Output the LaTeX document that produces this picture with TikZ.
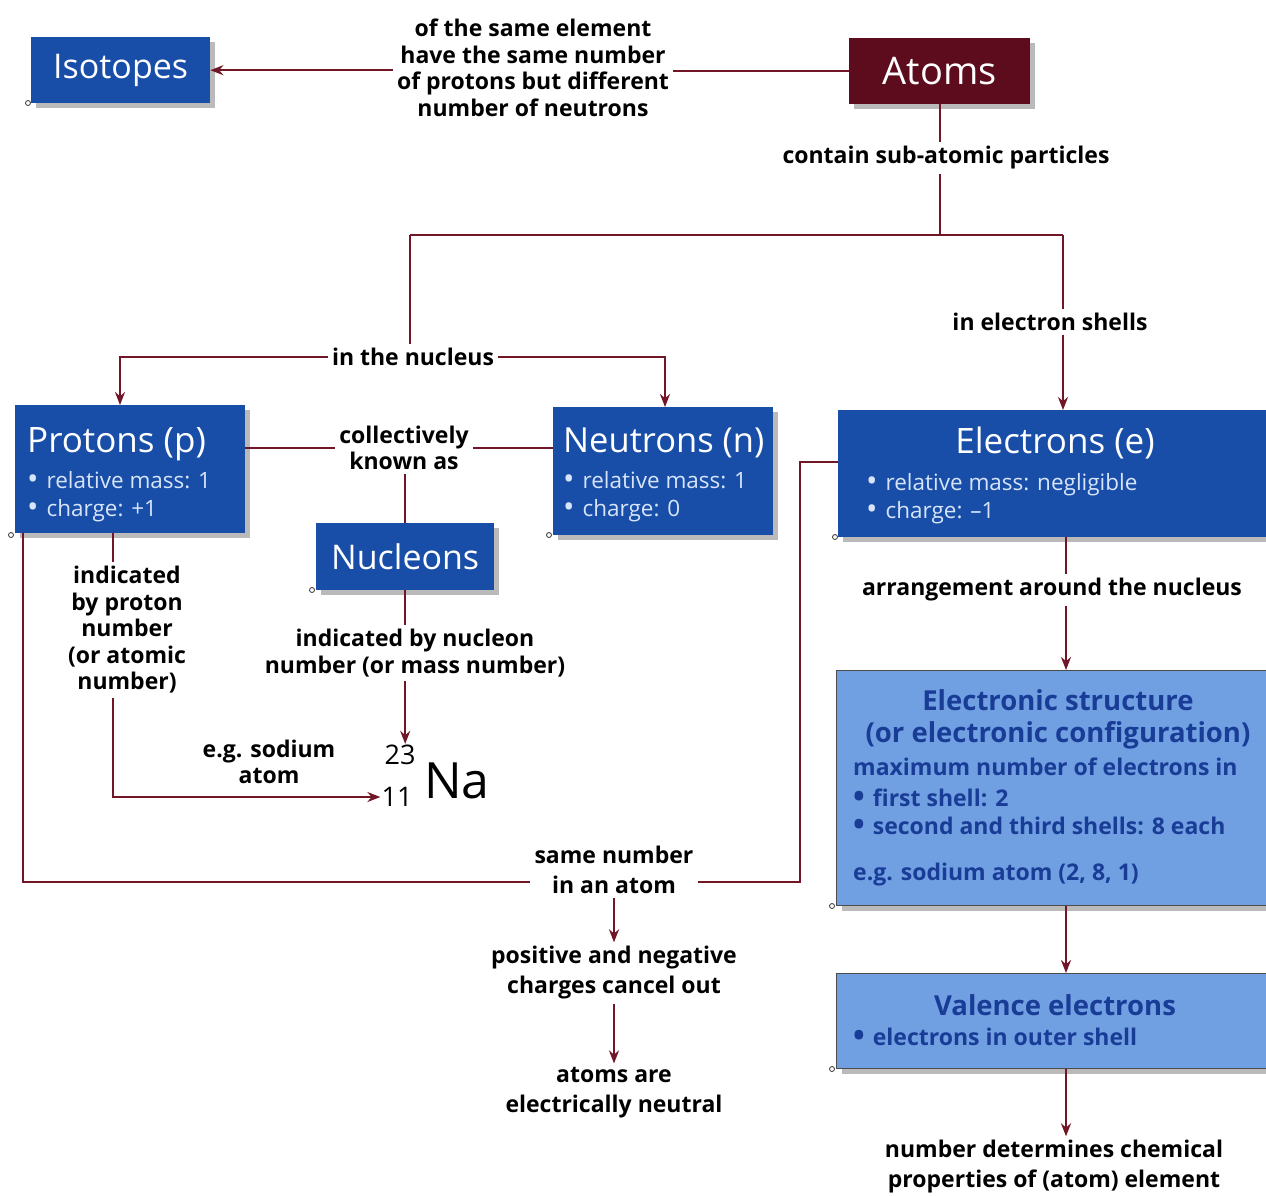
\documentclass[tikz,border=0pt]{standalone}
\usepackage{fontspec}
\setmainfont{Open Sans}
\usetikzlibrary{arrows.meta,shadows}
\definecolor{boxblue}{RGB}{24,78,168}
\definecolor{atomred}{RGB}{92,12,28}
\definecolor{linered}{RGB}{112,22,38}
\definecolor{lightbox}{RGB}{112,160,226}
\definecolor{darktext}{RGB}{25,60,150}
\definecolor{bullettext}{RGB}{215,228,250}
\newcommand{\bu}{\raisebox{-1pt}{\scalebox{1.35}{\textbullet}}\hspace{8pt}}
\tikzset{
  box/.style={fill=boxblue, inner sep=0pt, anchor=north west,
    drop shadow={shadow xshift=5pt, shadow yshift=-5pt, fill=black!45, opacity=0.6}},
  redbox/.style={box, fill=atomred},
  litebox/.style={box, fill=lightbox, draw=black!70, line width=1pt},
  ttl/.style={text=white, inner sep=0pt, font=\fontsize{35}{38}\selectfont},
  bul/.style={text=bullettext, inner sep=0pt, anchor=base west, align=left, font=\fontsize{22.5}{27.2}\selectfont},
  dttl/.style={text=darktext, inner sep=0pt, anchor=base, font=\bfseries\fontsize{27.5}{32}\selectfont},
  dbul/.style={text=darktext, inner sep=0pt, anchor=base west, font=\bfseries\fontsize{23}{26}\selectfont},
  lbl/.style={text=black, inner sep=4pt, align=center, font=\bfseries\fontsize{23}{26.5}\selectfont},
  lblw/.style={lbl, font=\bfseries\fontsize{23}{30}\selectfont},
  conn/.style={draw=linered, line width=2pt},
  arr/.style={conn, -{Stealth[length=13pt,width=10pt]}},
  ghost/.style={draw=black!80, fill=white, line width=0.8pt}
}
\begin{document}
\begin{tikzpicture}[x=1pt,y=-1pt]
\useasboundingbox (0,0) rectangle (1266,1195);
\fill[white] (0,0) rectangle (1266,1195);

% boxes
\node[box, minimum width=179pt, minimum height=66pt] (iso) at (31,37) {};
\node[redbox, minimum width=181pt, minimum height=66pt] (atoms) at (849,38) {};
\node[box, minimum width=230pt, minimum height=128pt] (protons) at (15,405) {};
\node[box, minimum width=220pt, minimum height=128pt] (neutrons) at (553,407) {};
\node[box, minimum width=428pt, minimum height=127pt] (electrons) at (838,410) {};
\node[box, minimum width=178pt, minimum height=67pt] (nucleons) at (316,523) {};
\node[litebox, minimum width=430pt, minimum height=235pt] (es) at (836,670) {};
\node[litebox, minimum width=430pt, minimum height=95pt] (val) at (836,973) {};

% ghost corner marks
\draw[ghost] (28,103) circle (2.5);
\draw[ghost] (11,535) circle (2.5);
\draw[ghost] (549,535) circle (2.5);
\draw[ghost] (835,537) circle (2.5);
\draw[ghost] (312,590) circle (2.5);
\draw[ghost] (832,906) circle (2.5);
\draw[ghost] (832,1069) circle (2.5);

% box texts
\node[ttl, font=\fontsize{34}{38}\selectfont] (tiso) at (iso.center) {Isotopes};
\node[ttl, font=\fontsize{38}{40}\selectfont] (tatoms) at (atoms.center) {Atoms};
\node[ttl, anchor=base west] (tprot) at (27,452) {Protons (p)};
\node[bul] (bp) at (27,516) {\bu relative mass: 1\\\bu charge: +1};
\node[ttl, anchor=base west, font=\fontsize{34.5}{38}\selectfont] (tneut) at (563,452) {Neutrons (n)};
\node[bul] (bn) at (563,516) {\bu relative mass: 1\\\bu charge: 0};
\node[ttl, anchor=base] (telec) at (1055,453) {Electrons (e)};
\node[bul] (be) at (866,518) {\bu relative mass: negligible\\\bu charge: –1};
\node[ttl, font=\fontsize{34}{38}\selectfont] (tnucl) at (nucleons.center) {Nucleons};
\node[dttl] (tes1) at (1058,710) {Electronic structure};
\node[dttl] (tes2) at (1058,742) {(or electronic configuration)};
\node[dbul] (des1) at (853,775) {maximum number of electrons in};
\node[dbul] (des2) at (853,806) {\bu first shell: 2};
\node[dbul] (des3) at (853,834) {\bu second and third shells: 8 each};
\node[dbul] (des4) at (853,880) {e.g. sodium atom (2, 8, 1)};
\node[dttl] (tval) at (1055,1015) {Valence electrons};
\node[dbul] (dval) at (853,1045) {\bu electrons in outer shell};

% labels
\node[lbl] (lbliso) at (533,68) {of the same element\\have the same number\\of protons but different\\number of neutrons};
\node[lbl] (lblcontain) at (946,158) {contain sub-atomic particles};
\node[lbl] (lblshells) at (1050,322) {in electron shells};
\node[lbl] (lblnucleus) at (413,357) {in the nucleus};
\node[lbl] (lblcoll) at (404,448) {collectively\\known as};
\node[lbl] (lblpnum) at (127,630) {indicated\\by proton\\number\\(or atomic\\number)};
\node[lbl] (lblnnum) at (415,653) {indicated by nucleon\\number (or mass number)};
\node[lbl] (lbleg) at (269,762) {e.g. sodium\\atom};
\node[lblw] (lblsame) at (614,870) {same number\\in an atom};
\node[lblw] (lblpos) at (614,973) {positive and negative\\charges cancel out};
\node[lblw] (lblneut) at (614,1093) {atoms are\\electrically neutral};
\node[lbl] (lblarr) at (1052,590) {arrangement around the nucleus};
\node[lblw] (lblprop) at (1054,1167) {number determines chemical\\properties of (atom) element};

% sodium notation
\node[inner sep=1pt, font=\fontsize{27}{27}\selectfont] (na23) at (400,755) {23};
\node[inner sep=1pt, font=\fontsize{27}{27}\selectfont] (na11) at (397,797) {11};
\node[inner sep=0pt, font=\fontsize{50}{50}\selectfont] (na) at (457,781) {Na};

% junction coordinates
\coordinate (jL) at (410,235);
\coordinate (jR) at (1063,235);
\coordinate (nL) at (120,357);
\coordinate (nR) at (665,357);
\coordinate (pX) at (113,797);
\coordinate (sL) at (23,882);
\coordinate (sR) at (800,882);
\coordinate (sT) at (800,462);
\coordinate (eX) at (1066,0);

% connectors
\draw[conn] (atoms.west) -- (lbliso.east |- atoms.west);
\draw[arr] (lbliso.west |- iso.east) -- (iso.east);
\draw[conn] (atoms.south) -- (atoms.south |- lblcontain.north);
\draw[conn] (atoms.south |- lblcontain.south) -- (atoms.south |- jL);
\draw[conn] (jL) -- (jR);
\draw[conn] (jL) -- (jL |- lblnucleus.north);
\draw[conn] (jR) -- (jR |- lblshells.north);
\draw[arr] (jR |- lblshells.south) -- (jR |- electrons.north);
\draw[arr] (lblnucleus.west) -- (nL) -- (nL |- protons.north);
\draw[arr] (lblnucleus.east) -- (nR) -- (nR |- neutrons.north);
\draw[conn] (lblcoll.west -| protons.east) -- (lblcoll.west);
\draw[conn] (lblcoll.east) -- (lblcoll.east -| neutrons.west);
\draw[conn] (lblcoll.south -| nucleons.north) -- (nucleons.north);
\draw[conn] (nucleons.south) -- (nucleons.south |- lblnnum.north);
\draw[arr] (nucleons.south |- lblnnum.south) -- (nucleons.south |- na23.north);
\draw[conn] (pX |- protons.south) -- (pX |- lblpnum.north);
\draw[arr] (pX |- lblpnum.south) -- (pX) -- (na11.west);
\draw[conn] (sL |- protons.south) -- (sL) -- (lblsame.west |- sL);
\draw[conn] (lblsame.east |- sR) -- (sR) -- (sT) -- (sT -| electrons.west);
\draw[arr] (lblsame.south) -- (lblpos.north);
\draw[arr] (lblpos.south) -- (lblneut.north);
\draw[conn] (eX |- electrons.south) -- (eX |- lblarr.north);
\draw[arr] (eX |- lblarr.south) -- (eX |- es.north);
\draw[arr] (eX |- es.south) -- (eX |- val.north);
\draw[arr] (eX |- val.south) -- (eX |- lblprop.north);
\end{tikzpicture}
\end{document}
